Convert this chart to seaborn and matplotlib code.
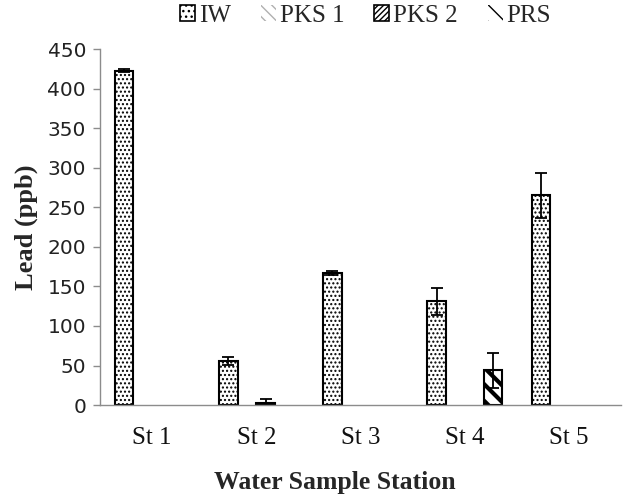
import pandas as pd
import seaborn as sns
import matplotlib.pyplot as plt
from matplotlib.patches import Patch

# Values
stations = ['St 1', 'St 2', 'St 3', 'St 4', 'St 5']
series = ['IW', 'PKS 1', 'PKS 2', 'PRS']
iw = [423, 56, 167, 131, 265]
iw_err = [2, 5, 3, 17, 28]
pks1 = [0, 0, 0, 0, 0]
pks1_err = [0, 0, 0, 0, 0]
pks2 = [0, 3, 0, 0, 0]
pks2_err = [0, 5, 0, 0, 0]
prs = [0, 0, 0, 44, 0]
prs_err = [0, 0, 0, 22, 0]

values = {'IW': iw, 'PKS 1': pks1, 'PKS 2': pks2, 'PRS': prs}
errors = {'IW': iw_err, 'PKS 1': pks1_err, 'PKS 2': pks2_err, 'PRS': prs_err}

rows = []
for s in series:
    for st, v in zip(stations, values[s]):
        rows.append({'station': st, 'series': s, 'lead': v})
df = pd.DataFrame(rows)

sns.set_style("white")
serif = 'Liberation Serif'

# hatch style per series: (hatch, hatch linewidth)
styles = {
    'IW': ('....', 1.0),
    'PKS 1': ('\\\\\\', 1.0),
    'PKS 2': ('//////', 1.0),
    'PRS': ('\\\\', 3.0),
}

fig = plt.figure(figsize=(6.25, 4.97), dpi=100)
ax = fig.add_axes([0.16, 0.185, 0.834, 0.716])

sns.barplot(data=df, x='station', y='lead', hue='series', order=stations,
            hue_order=series, errorbar=None, width=0.72,
            palette=['white'] * 4, edgecolor='black', linewidth=1.5,
            legend=False, ax=ax)

for s, cont in zip(series, ax.containers):
    hatch, hlw = styles[s]
    xs = []
    for bar, v in zip(cont, values[s]):
        bar.set_hatch(hatch)
        bar.set_edgecolor('black')
        if hasattr(bar, 'set_hatch_linewidth'):
            bar.set_hatch_linewidth(hlw)
        if v == 0:
            bar.set_visible(False)
        xs.append(bar.get_x() + bar.get_width() / 2)
    for x, v, e in zip(xs, values[s], errors[s]):
        if e > 0:
            ax.errorbar(x, v, yerr=e, fmt='none', ecolor='black',
                        elinewidth=1.3, capsize=4.5, capthick=1.3)

ax.set_ylim(0, 450)
ax.set_yticks(range(0, 451, 50))
ax.set_xlim(-0.5, 4.5)

for side in ['top', 'right']:
    ax.spines[side].set_visible(False)
for side in ['left', 'bottom']:
    ax.spines[side].set_color('#8c8c8c')
    ax.spines[side].set_linewidth(1.0)

ax.tick_params(axis='y', direction='out', length=5, color='#8c8c8c',
               width=1.0, labelsize=14.5, labelcolor='#222222', pad=5, left=True)
ax.tick_params(axis='x', length=0, pad=16)
for lab in ax.get_xticklabels():
    lab.set_fontfamily(serif)
    lab.set_fontsize(18)
    lab.set_color('#111111')

ax.set_xlabel('Water Sample Station', fontfamily=serif, fontsize=18.5,
              fontweight='bold')
ax.set_ylabel('Lead (ppb)', fontfamily=serif, fontsize=19, fontweight='bold')
ax.xaxis.set_label_coords(0.451, -0.185)
ax.yaxis.set_label_coords(-0.118, 0.5)

handles = [
    Patch(facecolor='white', edgecolor='black', hatch='...', linewidth=1.2),
    Patch(facecolor='white', edgecolor='#b0b0b0', hatch='\\\\\\', linewidth=0),
    Patch(facecolor='white', edgecolor='black', hatch='//////', linewidth=1.2),
    Patch(facecolor='white', edgecolor='black', hatch='\\\\', linewidth=0),
]

fig.legend(handles, series, loc='center', bbox_to_anchor=(0.585, 0.968),
           ncol=4, frameon=False, prop={'family': serif, 'size': 18},
           handlelength=0.6, handleheight=0.6, handletextpad=0.15,
           columnspacing=1.2)

fig.savefig('out.png', dpi=100)
